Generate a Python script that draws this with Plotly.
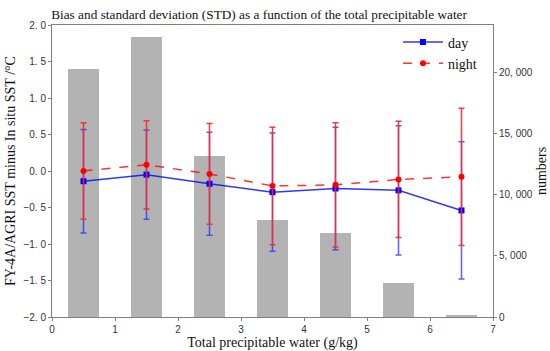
import plotly.graph_objects as go

tpw = [0.5, 1.5, 2.5, 3.5, 4.5, 5.5, 6.5]
counts = [20300, 22900, 13200, 7900, 6900, 2800, 150]
day_bias = [-0.14, -0.05, -0.175, -0.29, -0.24, -0.265, -0.54]
day_std = [0.71, 0.61, 0.705, 0.81, 0.84, 0.885, 0.94]
night_bias = [0.0, 0.085, -0.04, -0.205, -0.19, -0.115, -0.08]
night_std = [0.66, 0.605, 0.69, 0.805, 0.85, 0.795, 0.94]

x_ticks = [0, 1, 2, 3, 4, 5, 6, 7]
left_ticks = [-2.0, -1.5, -1.0, -0.5, 0.0, 0.5, 1.0, 1.5, 2.0]
left_labels = ["\u22122. 0", "\u22121. 5", "\u22121. 0", "\u22120. 5", "0. 0", "0. 5", "1. 0", "1. 5", "2. 0"]
right_ticks = [0, 5000, 10000, 15000, 20000]
right_labels = ["0", "5, 000", "10, 000", "15, 000", "20, 000"]

serif = "Liberation Serif"
sans = "Liberation Sans"
axcol = "#808080"

fig = go.Figure()
fig.add_trace(go.Bar(x=tpw, y=counts, width=0.5, marker=dict(color="#b3b3b3", line=dict(width=0)),
                     yaxis="y", showlegend=False, hoverinfo="skip"))
fig.add_trace(go.Scatter(x=tpw, y=day_bias, yaxis="y2", name="day", mode="lines+markers",
                         line=dict(color="rgba(0,0,255,0.8)", width=1.5),
                         marker=dict(symbol="square", size=6, color="#0000ff"),
                         error_y=dict(type="data", array=day_std, color="rgba(40,40,255,0.75)", thickness=1.5, width=3)))
fig.add_trace(go.Scatter(x=tpw, y=night_bias, yaxis="y2", name="night", mode="lines+markers",
                         line=dict(color="rgba(255,0,0,0.8)", width=1.5, dash="dash"),
                         marker=dict(symbol="circle", size=6, color="#ff0000"),
                         error_y=dict(type="data", array=night_std, color="rgba(255,40,40,0.92)", thickness=1.5, width=3)))

fig.update_layout(
    width=550, height=351,
    margin=dict(l=52, r=57, t=25, b=34, autoexpand=False),
    paper_bgcolor="white", plot_bgcolor="white",
    title=dict(text="Bias and standard deviation (STD) as a function of the total precipitable water",
               x=0.471, xanchor="center", y=0.958, yanchor="middle",
               font=dict(family=serif, size=13.3, color="#111")),
    xaxis=dict(range=[0, 7], tickvals=x_ticks, ticks="outside", ticklen=3, tickcolor=axcol, automargin=False,
               showline=True, linecolor=axcol, linewidth=1, mirror=True, showgrid=False, zeroline=False,
               tickfont=dict(family=sans, size=10, color="#333"),
               title=dict(text="Total precipitable water (g/kg)", font=dict(family=serif, size=14, color="#111"),
                          standoff=0)),
    yaxis=dict(range=[0, 23900], side="right", tickvals=right_ticks, ticktext=right_labels, automargin=False,
               ticks="outside", ticklen=3, tickcolor=axcol, showline=True, linecolor=axcol,
               showgrid=False, zeroline=False, tickfont=dict(family=sans, size=10, color="#333"),
               title=dict(text="numbers", font=dict(family=serif, size=14, color="#111"), standoff=4)),
    yaxis2=dict(range=[-2, 2], overlaying="y", side="left", tickvals=left_ticks, ticktext=left_labels,
                automargin=False,
                ticks="outside", ticklen=3, tickcolor=axcol, showline=True, linecolor=axcol,
                showgrid=False, zeroline=False, tickfont=dict(family=sans, size=10, color="#333"),
                title=dict(text="FY-4A/AGRI SST minus In situ SST /\u00b0C",
                           font=dict(family=serif, size=14, color="#111"), standoff=4)),
    legend=dict(x=0.975, y=0.995, xanchor="right", yanchor="top", bgcolor="rgba(255,255,255,0)",
                font=dict(family=serif, size=14, color="#111"), itemwidth=40, tracegroupgap=0),
    bargap=0,
)

fig.write_html("out.html", config={"displayModeBar": False},
               post_script="document.body.style.margin='0';document.body.style.overflow='hidden';")
